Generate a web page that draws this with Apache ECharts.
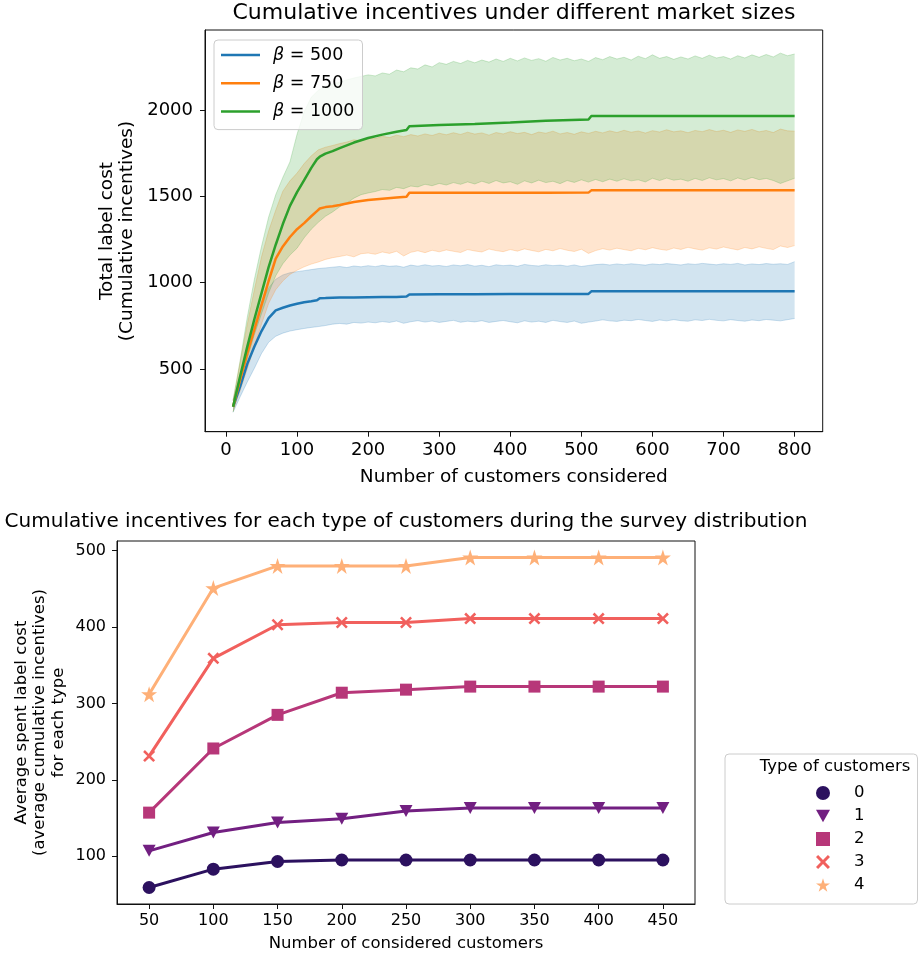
<!DOCTYPE html>
<html>
<head>
<meta charset="utf-8">
<script src="https://cdn.jsdelivr.net/npm/echarts@6/dist/echarts.min.js"></script>
<style>
html,body{margin:0;padding:0;background:#fff;}
#chart{width:918px;height:961px;}
</style>
</head>
<body>
<div id="chart"></div>
<script>
// ---------- Top chart data ----------
const meanX = [10,20,30,40,50,60,70,80,90,100,110,120,128,132,140,150,160,180,200,220,240,254,258,300,350,400,450,510,514,600,700,800];
const blueMean = [282,400,530,630,720,795,840,855,868,878,887,893,898,910,911,913,914,915,916,917,918,920,932,933,933,934,934,935,950,950,950,950];
const orangeMean = [282,440,590,730,870,1010,1140,1210,1265,1310,1345,1385,1415,1430,1438,1443,1450,1468,1479,1487,1494,1498,1521,1521,1521,1521,1521,1522,1535,1535,1535,1535];
const greenMean = [282,460,630,790,940,1090,1220,1340,1445,1525,1595,1665,1715,1730,1748,1762,1780,1812,1838,1858,1875,1885,1906,1914,1920,1928,1938,1946,1966,1966,1966,1966];

const bandX = [10,20,30,40,50,60,70,80,90,100,110,120,130,140,150,160,170,180,190,200,
  210,220,230,240,250,260,270,280,290,300,310,320,330,340,350,360,370,380,390,400,
  410,420,430,440,450,460,470,480,490,500,510,520,530,540,550,560,570,580,590,600,
  610,620,630,640,650,660,670,680,690,700,710,720,730,740,750,760,770,780,790,800];
const blueLower = [250,340,425,505,590,655,690,708,720,728,735,741,746,752,760,764,760,770,766,772,
  768,775,770,778,765,774,780,772,778,770,776,782,771,777,773,780,770,776,781,774,
  768,779,772,777,770,782,775,770,778,765,772,778,785,779,776,783,780,787,781,776,
  784,779,786,780,777,785,781,788,782,779,786,781,777,784,780,787,783,779,786,793];
const blueUpper = [318,470,610,760,890,970,1020,1045,1058,1064,1070,1076,1082,1086,1090,1094,1088,1097,1092,1099,
  1093,1101,1095,1098,1090,1102,1096,1104,1097,1100,1094,1103,1098,1105,1096,1101,1093,1104,1099,1102,
  1095,1106,1100,1097,1104,1099,1102,1096,1103,1094,1100,1105,1108,1103,1109,1104,1110,1106,1102,1109,
  1105,1111,1107,1103,1110,1106,1112,1108,1104,1110,1106,1112,1103,1109,1105,1111,1107,1110,1106,1122];
const orangeLower = [255,375,500,630,760,880,960,1010,1048,1072,1092,1108,1120,1135,1145,1152,1160,1150,1168,1172,
  1165,1178,1170,1182,1155,1176,1185,1174,1188,1179,1190,1182,1175,1192,1184,1178,1195,1186,1180,1192,
  1183,1196,1187,1179,1193,1185,1198,1188,1181,1194,1170,1186,1197,1189,1200,1192,1185,1199,1191,1203,
  1194,1188,1201,1193,1205,1196,1189,1202,1195,1207,1198,1190,1204,1196,1208,1199,1192,1213,1204,1215];
const orangeUpper = [315,540,760,960,1150,1300,1420,1530,1590,1635,1690,1735,1770,1785,1795,1806,1815,1828,1822,1838,
  1835,1848,1841,1855,1846,1858,1850,1862,1853,1866,1857,1869,1859,1872,1861,1868,1855,1870,1862,1875,
  1864,1871,1858,1873,1866,1878,1862,1870,1860,1874,1865,1877,1868,1880,1870,1883,1872,1879,1867,1881,
  1873,1886,1874,1880,1869,1882,1875,1887,1876,1883,1871,1885,1877,1888,1874,1882,1870,1890,1880,1878];
const greenLower = [250,420,560,700,820,940,1040,1110,1160,1200,1260,1310,1350,1385,1410,1440,1460,1490,1510,1520,
  1528,1540,1535,1552,1545,1560,1555,1570,1562,1575,1566,1580,1570,1584,1572,1588,1575,1592,1578,1585,
  1570,1590,1578,1594,1580,1588,1574,1592,1581,1596,1583,1598,1585,1600,1588,1602,1590,1596,1584,1605,
  1592,1606,1594,1600,1588,1604,1592,1608,1596,1603,1590,1607,1595,1610,1597,1604,1592,1575,1590,1605];
const greenUpper = [320,550,800,1020,1210,1380,1510,1610,1700,1860,1990,2075,2115,2138,2150,2162,2175,2186,2195,2204,
  2198,2215,2208,2232,2222,2245,2238,2262,2250,2275,2265,2282,2270,2288,2274,2290,2278,2296,2282,2300,
  2285,2302,2288,2298,2283,2305,2290,2300,2286,2296,2282,2304,2292,2310,2296,2306,2290,2312,2298,2320,
  2300,2310,2294,2308,2296,2314,2300,2318,2302,2310,2296,2315,2302,2320,2306,2322,2308,2330,2315,2325];
const topXTicks = [0,100,200,300,400,500,600,700,800];
const topYTicks = [500,1000,1500,2000];
const betaNames = ['β = 500','β = 750','β = 1000'];

// ---------- Bottom chart data ----------
const custCats = ['50','100','150','200','250','300','350','400','450'];
const type0 = [59,83,93,95,95,95,95,95,95];
const type1 = [107,131,144,149,159,163,163,163,163];
const type2 = [157,241,285,314,318,322,322,322,322];
const type3 = [231,359,403,406,406,411,411,411,411];
const type4 = [312,451,480,480,480,491,491,491,491];
const typeNames = ['0','1','2','3','4'];
const botYTicks = [100,200,300,400,500];

// ---------- styling ----------
const FF = 'DejaVu Sans';
const topColors = ['#1f77b4','#ff7f0e','#2ca02c'];
const typeColors = ['#2c115f','#721f81','#b73779','#f1605d','#feb078'];
const triPath = 'path://M0,0L20,0L10,18Z';
const xPath = 'path://M3,0L10,7L17,0L20,3L13,10L20,17L17,20L10,13L3,20L0,17L7,10L0,3Z';
const starPath = 'path://M50,0L61.2,34.5L97.6,34.5L68.2,55.9L79.4,90.5L50,69.1L20.6,90.5L31.8,55.9L2.4,34.5L38.8,34.5Z';
const typeSymbols = ['circle', triPath, 'rect', xPath, starPath];
const typeSizes = [13, [13,12], 12, 12, 16];

function pairs(xs, ys){ return xs.map((x,i)=>[x, ys[i]]); }
function rgba(hex, a){
  const n = parseInt(hex.slice(1),16);
  return 'rgba(' + ((n>>16)&255) + ',' + ((n>>8)&255) + ',' + (n&255) + ',' + a + ')';
}

const bands = [[blueLower, blueUpper],[orangeLower, orangeUpper],[greenLower, greenUpper]];
const means = [blueMean, orangeMean, greenMean];

const series = [];
for (let k = 0; k < 3; k++) {
  const lo = bands[k][0], up = bands[k][1];
  const col = topColors[k];
  series.push({
    type:'custom', name:'band'+k, xAxisIndex:0, yAxisIndex:0, silent:true, z:2,
    data: bandX.map((x,i)=>[x, lo[i], up[i]]),
    encode:{ x:0, y:[1,2] },
    renderItem: function(params, api){
      if (params.dataIndex !== 0) return null;
      const upPts = bandX.map((x,i)=>api.coord([x, up[i]]));
      const loPts = bandX.map((x,i)=>api.coord([x, lo[i]]));
      const poly = upPts.concat(loPts.slice().reverse());
      return { type:'group', children:[
        { type:'polygon', shape:{ points: poly }, style:{ fill: rgba(col,0.2) } },
        { type:'polyline', shape:{ points: upPts }, style:{ fill:null, stroke: rgba(col,0.22), lineWidth:1 } },
        { type:'polyline', shape:{ points: loPts }, style:{ fill:null, stroke: rgba(col,0.22), lineWidth:1 } }
      ]};
    }
  });
}
for (let k = 0; k < 3; k++) {
  series.push({
    type:'line', name: betaNames[k], xAxisIndex:0, yAxisIndex:0,
    data: pairs(meanX, means[k]), showSymbol:false, symbol:'none', z:5,
    color: topColors[k], lineStyle:{ color: topColors[k], width:2.5 }
  });
}
const typeData = [type0,type1,type2,type3,type4];
for (let k = 0; k < 5; k++) {
  series.push({
    type:'line', name: typeNames[k], xAxisIndex:1, yAxisIndex:1,
    data: typeData[k], symbol: typeSymbols[k], symbolSize: typeSizes[k], showSymbol:true,
    color: typeColors[k], itemStyle:{ color: typeColors[k], opacity:1 },
    lineStyle:{ color: typeColors[k], width:3 }, z:3+k
  });
}

const axisTxt = { color:'#000', fontFamily: FF };
const plain = v => String(v);
const option = {
  animation:false,
  backgroundColor:'#fff',
  grid:[
    {left:205, top:30, width:617.7, height:401.7, show:true, borderColor:'#111', borderWidth:1, backgroundColor:'transparent'},
    {left:117, top:541, width:578, height:363, show:true, borderColor:'#111', borderWidth:1, backgroundColor:'transparent'}
  ],
  xAxis:[
    { gridIndex:0, type:'value', min:-29.5, max:839.5,
      axisLine:{show:true, onZero:false, lineStyle:{color:'#111'}},
      axisTick:{show:true, length:5, customValues: topXTicks, lineStyle:{color:'#111'}},
      axisLabel:{ customValues: topXTicks, formatter: plain, fontSize:18, margin:10, ...axisTxt },
      splitLine:{show:false},
      name:'Number of customers considered', nameLocation:'middle', nameGap:36,
      nameTextStyle:{ fontSize:18.5, ...axisTxt } },
    { gridIndex:1, type:'category', data: custCats, boundaryGap:true,
      axisLine:{show:true, onZero:false, lineStyle:{color:'#111'}},
      axisTick:{show:true, length:5, alignWithLabel:true, lineStyle:{color:'#111'}},
      axisLabel:{ fontSize:16, margin:9, interval:0, ...axisTxt },
      splitLine:{show:false},
      name:'Number of considered customers', nameLocation:'middle', nameGap:31,
      nameTextStyle:{ fontSize:16.5, ...axisTxt } }
  ],
  yAxis:[
    { gridIndex:0, type:'value', min:137, max:2464,
      axisLine:{show:true, onZero:false, lineStyle:{color:'#111'}},
      axisTick:{show:true, length:5, customValues: topYTicks, lineStyle:{color:'#111'}},
      axisLabel:{ customValues: topYTicks, formatter: plain, fontSize:18, margin:12, ...axisTxt },
      splitLine:{show:false} },
    { gridIndex:1, type:'value', min:37.4, max:512.6,
      axisLine:{show:true, onZero:false, lineStyle:{color:'#111'}},
      axisTick:{show:true, length:5, customValues: botYTicks, lineStyle:{color:'#111'}},
      axisLabel:{ customValues: botYTicks, formatter: plain, fontSize:16, margin:11, ...axisTxt },
      splitLine:{show:false} }
  ],
  legend:[
    { data: betaNames, orient:'vertical', left:214, top:40, selectedMode:false,
      padding:[5,8,8,7], itemWidth:39, itemHeight:20, itemGap:8.3,
      icon:'path://M0,0H40V2.6H0Z',
      backgroundColor:'rgba(255,255,255,0.8)', borderColor:'#cccccc', borderWidth:1, borderRadius:4,
      formatter: function(name){ return '{g|β}{t|' + name.slice(1) + '}'; },
      textStyle:{ fontSize:17.5, fontFamily:FF, color:'#000', lineHeight:20,
        rich:{ g:{ fontSize:17.5, fontFamily:FF, fontStyle:'italic', color:'#000', padding:[0,0,0,8] },
               t:{ fontSize:17.5, fontFamily:FF, color:'#000' } } } },
    { data: typeNames.map((n,i)=>({name:n, icon: typeSymbols[i]})), orient:'vertical', left:725, top:754, selectedMode:false,
      padding:[30,53,10,91], itemWidth:14, itemHeight:14, itemGap:5,
      backgroundColor:'#fff', borderColor:'#cccccc', borderWidth:1, borderRadius:4,
      formatter: function(name){ return '{a|' + name + '}'; },
      textStyle:{ fontSize:16.5, fontFamily:FF, color:'#000', lineHeight:18,
        rich:{ a:{ fontSize:16.5, fontFamily:FF, color:'#000', padding:[0,0,0,19] } } } }
  ],
  graphic:[
    { type:'text', x:514, y:13, z:100, style:{ text:'Cumulative incentives under different market sizes',
      fontSize:22, fontFamily:FF, fill:'#000', align:'center', verticalAlign:'middle', textAlign:'center', textVerticalAlign:'middle' } },
    { type:'text', x:117, y:231, rotation:Math.PI/2, z:100, style:{ text:'Total label cost\n(Cumulative incentives)',
      fontSize:18.5, lineHeight:20.6, fontFamily:FF, fill:'#000', align:'center', verticalAlign:'middle', textAlign:'center', textVerticalAlign:'middle' } },
    { type:'text', x:406, y:522, z:100, style:{ text:'Cumulative incentives for each type of customers during the survey distribution',
      fontSize:20, fontFamily:FF, fill:'#000', align:'center', verticalAlign:'middle', textAlign:'center', textVerticalAlign:'middle' } },
    { type:'text', x:40, y:722.5, rotation:Math.PI/2, z:100, style:{ text:'Average spent label cost\n(average cumulative incentives)\nfor each type',
      fontSize:16.5, lineHeight:18.3, fontFamily:FF, fill:'#000', align:'center', verticalAlign:'middle', textAlign:'center', textVerticalAlign:'middle' } },
    { type:'text', x:835, y:767, z:100, style:{ text:'Type of customers',
      fontSize:16.5, fontFamily:FF, fill:'#000', align:'center', verticalAlign:'middle', textAlign:'center', textVerticalAlign:'middle' } }
  ],
  series: series
};
const chart = echarts.init(document.getElementById('chart'), null, {renderer:'canvas'});
chart.setOption(option);
</script>
</body>
</html>
